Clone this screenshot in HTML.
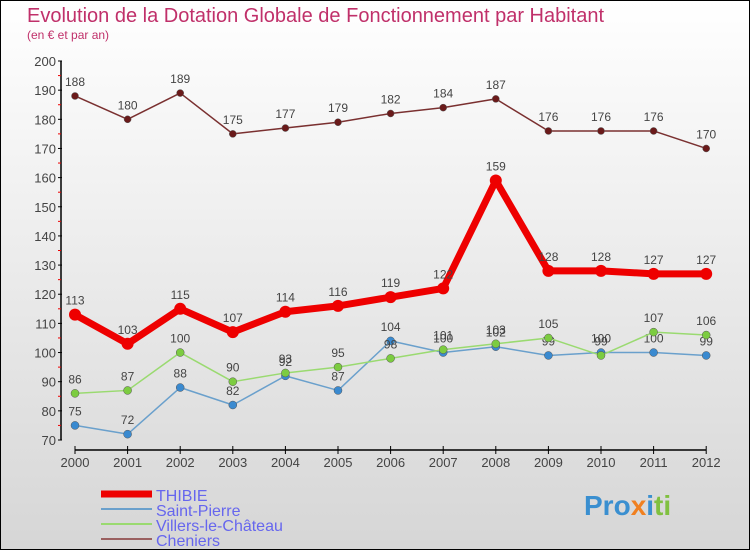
<!DOCTYPE html>
<html><head><meta charset="utf-8"><style>
html,body{margin:0;padding:0}
body{width:750px;height:550px;overflow:hidden;font-family:"Liberation Sans",sans-serif}
#wrap{position:relative;width:748px;height:548px;border:1px solid #000;background:linear-gradient(#ffffff,#d6d6d6)}
</style></head><body>
<div id="wrap">
<svg id="chart" width="748" height="548" style="position:absolute;left:0;top:0">
<text x="26" y="21" font-size="20" fill="#c0306a">Evolution de la Dotation Globale de Fonctionnement par Habitant</text>
<text x="26" y="38" font-size="12" fill="#c0306a">(en € et par an)</text>
<text x="583" y="514" font-size="28" font-weight="bold" fill="#3a8fd0">Pro<tspan fill="#f08020">x</tspan><tspan fill="#3a8fd0">i</tspan><tspan fill="#80c040">ti</tspan></text>
<g id="axes"></g><g id="series"></g><g id="legend"></g>
</svg>
</div>
<script>
const years=["2000","2001","2002","2003","2004","2005","2006","2007","2008","2009","2010","2011","2012"];
const yTicks=[70,80,90,100,110,120,130,140,150,160,170,180,190,200];
const cheniers=[188,180,189,175,177,179,182,184,187,176,176,176,170];
const thibie=[113,103,115,107,114,116,119,122,159,128,128,127,127];
const saintPierre=[75,72,88,82,92,87,104,100,102,99,100,100,99];
const villers=[86,87,100,90,93,95,98,101,103,105,99,107,106];
const NS="http://www.w3.org/2000/svg";
function X(i){return 74+i*52.6;}
function Y(v){return 439-(v-70)*(379/130);}
function mk(tag,attrs,parent,txt){const e=document.createElementNS(NS,tag);for(const k in attrs)e.setAttribute(k,attrs[k]);if(txt!==undefined)e.textContent=txt;parent.appendChild(e);return e;}
const axes=document.getElementById('axes');
let a=mk('line',{x1:60,y1:Y(200),x2:60,y2:Y(70),stroke:'#000','stroke-width':1.5},axes);

yTicks.forEach((t,i)=>{
 mk('line',{x1:57,x2:61,y1:Y(t),y2:Y(t),stroke:'#000'},axes);
 if(t<200) mk('line',{x1:57,x2:60,y1:Y(t+5),y2:Y(t+5),stroke:'#e00'},axes);
 const l=mk('text',{x:55,y:Y(t)+5,'text-anchor':'end','font-size':13,fill:'#444'},axes,t);
 
});
a=mk('line',{x1:X(0),y1:449,x2:X(12),y2:449,stroke:'#000','stroke-width':1.5},axes);

years.forEach((y,i)=>{
 mk('line',{x1:X(i),x2:X(i),y1:445,y2:453,stroke:'#000'},axes);
 const l=mk('text',{x:X(i),y:466,'text-anchor':'middle','font-size':13,fill:'#444'},axes,y);
 
});
const ser=document.getElementById('series');
const defs=[
 {name:'cheniers',data:cheniers,color:'#7a3030',w:1.5,r:3.5,fill:'#6a1a1a'},
 {name:'saint-pierre',data:saintPierre,color:'#6aa0cc',w:1.5,r:4,fill:'#3a8ad0'},
 {name:'villers-le-chateau',data:villers,color:'#9ada70',w:1.5,r:4,fill:'#7ccc40'},
 {name:'thibie',data:thibie,color:'#ee0000',w:7,r:6,fill:'#ee0000'}
];
defs.forEach(s=>{
 const g=mk('g',{},ser);
 
 const p=mk('polyline',{points:s.data.map((v,i)=>X(i)+','+Y(v)).join(' '),fill:'none',stroke:s.color,'stroke-width':s.w,'stroke-linejoin':'round'},g);
 
 s.data.forEach((v,i)=>{
  const c=mk('circle',{cx:X(i),cy:Y(v),r:s.r,fill:s.fill,stroke:'#555','stroke-width':s.name==='thibie'?0:0.5},g);
  
  const t=mk('text',{x:X(i),y:Y(v)-10,'text-anchor':'middle','font-size':12,fill:'#444'},g,v);
  
 });
});
const leg=document.getElementById('legend');
const legItems=[['THIBIE','#ee0000',7,'thibie'],['Saint-Pierre','#6aa0cc',2,'saint-pierre'],['Villers-le-Château','#9ada70',2,'villers-le-chateau'],['Cheniers','#9a6060',2,'cheniers']];
legItems.forEach((it,i)=>{
 const y=493+i*15;
 const g=mk('g',{},leg);
 
 mk('line',{x1:100,x2:151,y1:y,y2:y,stroke:it[1],'stroke-width':it[2]},g);
 mk('text',{x:155,y:y+7,'font-size':16,fill:'#6666ee'},g,it[0]);
});
</script>
</body></html>
